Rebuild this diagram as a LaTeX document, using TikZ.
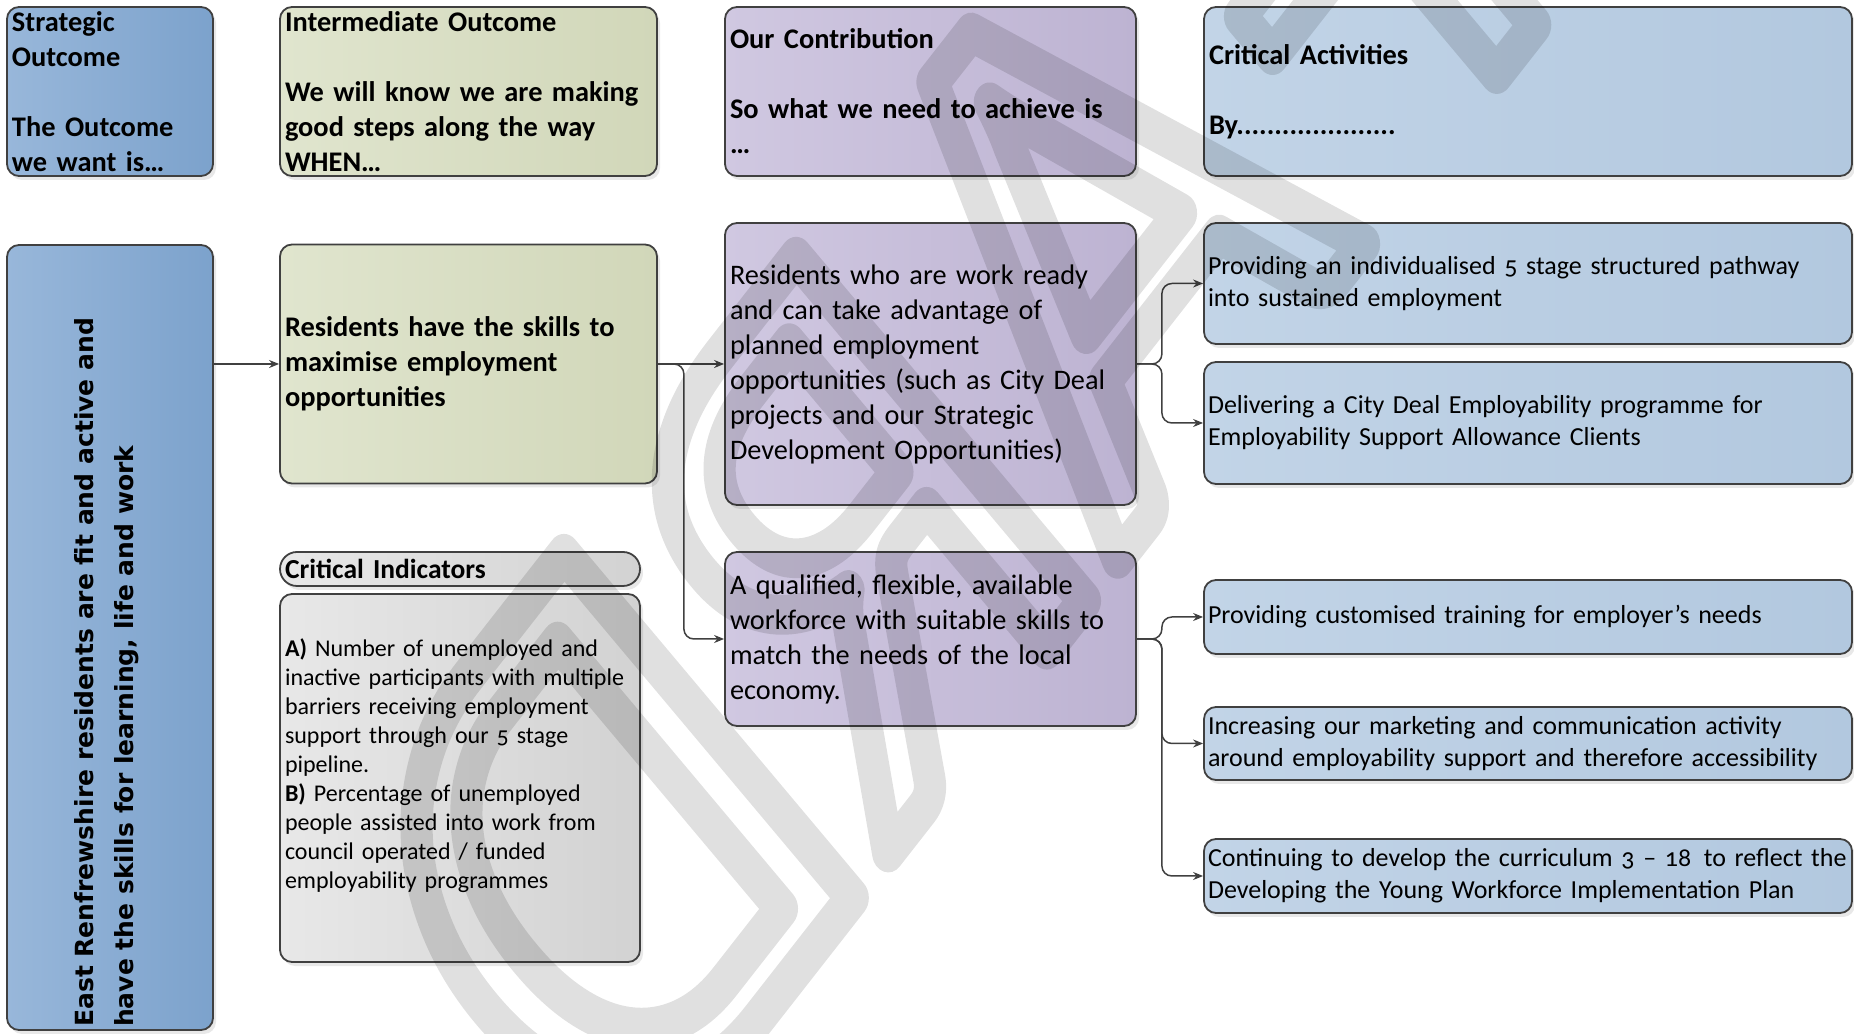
\documentclass[tikz,border=0pt]{standalone}
\usepackage{fontspec}
\setmainfont{Carlito}[Numbers=OldStyle]
\newfontfamily\goalfont{DejaVu Sans}
\usepackage{tikz}
\usepackage{xcolor}
\usetikzlibrary{positioning,arrows.meta,shadows}

\begin{document}
\begin{tikzpicture}[x=1pt,y=1pt,
  box/.style={draw=borderColor, line width=1.8pt, rounded corners=12pt,
    inner xsep=5pt, inner ysep=0pt, align=left,
    drop shadow={shadow xshift=3pt, shadow yshift=-4pt, opacity=0.18}},
  headtext/.style={font=\fontsize{28.4}{35}\selectfont\bfseries},
  bodytext/.style={font=\fontsize{28.3}{35}\selectfont},
  acttext/.style={font=\fontsize{26}{32}\selectfont, inner xsep=4pt, text width=640pt},
  indtext/.style={font=\fontsize{24}{29}\selectfont},
  stratfill/.style={left color=stratLight, right color=stratDark},
  greenfill/.style={left color=greenLight, right color=greenDark},
  purplefill/.style={left color=purpleLight, right color=purpleDark},
  actfill/.style={left color=actLight, right color=actDark},
  grayfill/.style={left color=grayLight, right color=grayDark},
  conn/.style={draw=borderColor, line width=1.5pt, rounded corners=10pt,
    -{Stealth[length=10pt,width=8pt]}},
  markletter/.style={xscale=-1, transform shape, inner sep=0pt, text=black,
    font=\fontsize{700}{700}\selectfont}]
\definecolor{borderColor}{RGB}{64,64,64}
\definecolor{stratLight}{RGB}{152,183,218}
\definecolor{stratDark}{RGB}{124,162,204}
\definecolor{greenLight}{RGB}{224,229,206}
\definecolor{greenDark}{RGB}{209,215,185}
\definecolor{purpleLight}{RGB}{208,200,225}
\definecolor{purpleDark}{RGB}{189,179,210}
\definecolor{actLight}{RGB}{194,212,231}
\definecolor{actDark}{RGB}{178,200,223}
\definecolor{grayLight}{RGB}{232,232,232}
\definecolor{grayDark}{RGB}{210,210,210}
\path[use as bounding box] (0,0) rectangle (1854,1033);
\path[clip] (0,0) rectangle (1854,1033);

% column headers
\node[box, stratfill, headtext, minimum width=206pt, text width=196pt, minimum height=169pt] (stratHead) at (110, 941.5)
  {Strategic\\Outcome\\[35pt]The Outcome\\we want is…};
\node[box, greenfill, headtext, minimum width=377pt, text width=367pt, minimum height=169pt] (interHead) at (468.5, 941.5)
  {Intermediate Outcome\\[35pt]We will know we are making\\good steps along the way\\WHEN…};
\node[box, purplefill, headtext, minimum width=411pt, text width=401pt, minimum height=169pt] (contribHead) at (930.5, 941.5)
  {Our Contribution\\[35pt]So what we need to achieve is\\…};
\node[box, actfill, headtext, minimum width=648pt, text width=638pt, minimum height=169pt] (actHead) at (1528, 941.5)
  {Critical Activities\\[35pt]By.....................};

% outcome and indicators
\node[box, stratfill, minimum width=206pt, minimum height=785pt] (goal) at (110, 395.5) {};
\node[rotate=90, anchor=north west, inner sep=0pt, align=left,
  font=\goalfont\bfseries\fontsize{25}{40}\selectfont] (goalText) at (74, 6)
  {East Renfrewshire residents are fit and active and\\have the skills for learning, life and work};
\node[box, greenfill, headtext, minimum width=377pt, text width=367pt, minimum height=239pt] (skills) at (468.5, 669)
  {Residents have the skills to\\maximise employment\\opportunities};
\node[box, grayfill, font=\fontsize{27.5}{34}\selectfont\bfseries, rounded corners=17pt,
  minimum width=360pt, text width=350pt, minimum height=34pt] (indHead) at (460, 464) {Critical Indicators};
\node[box, grayfill, indtext, minimum width=360pt, text width=350pt, minimum height=368pt] (indBox) at (460, 255)
  {\textbf{A)} Number of unemployed and\\inactive participants with multiple\\barriers receiving employment\\support through our 5 stage\\pipeline.\\
   \textbf{B)} Percentage of unemployed\\people assisted into work from\\council operated / funded\\employability programmes\\\mbox{}};

% contributions
\node[box, purplefill, bodytext, minimum width=411pt, text width=401pt, minimum height=282pt] (ready) at (930.5, 669)
  {Residents who are work ready\\and can take advantage of\\planned employment\\opportunities (such as City Deal\\projects and our Strategic\\Development Opportunities)};
\node[box, purplefill, bodytext, minimum width=411pt, text width=401pt, minimum height=174pt] (workforce) at (930.5, 394)
  {A qualified, flexible, available\\workforce with suitable skills to\\match the needs of the local\\economy.};

% activities
\node[box, actfill, acttext, minimum width=648pt, minimum height=121pt] (act1) at (1528, 749.5)
  {Providing an individualised 5 stage structured pathway\\into sustained employment};
\node[box, actfill, acttext, minimum width=648pt, minimum height=122pt] (act2) at (1528, 610)
  {Delivering a City Deal Employability programme for\\Employability Support Allowance Clients};
\node[box, actfill, acttext, minimum width=648pt, minimum height=74pt] (act3) at (1528, 416)
  {Providing customised training for employer’s needs};
\node[box, actfill, acttext, minimum width=648pt, minimum height=73pt] (act4) at (1528, 289.5)
  {Increasing our marketing and communication activity\\around employability support and therefore accessibility};
\node[box, actfill, acttext, minimum width=648pt, minimum height=74pt] (act5) at (1528, 157)
  {\mbox{Continuing to develop the curriculum 3 – 18\hspace{0.15em} to reflect the}\\Developing the Young Workforce Implementation Plan};

% connectors
\draw[conn] (goal.east |- skills.west) -- (skills.west);
\draw[conn] (skills.east) -- (ready.west);
\draw[conn] (skills.east) -- ++(26,0) |- (workforce.west);
\foreach \target in {act1,act2}
  \draw[conn] (ready.east) -- ++(25,0) |- (\target.west);
\foreach \target in {act3,act4,act5}
  \draw[conn] (workforce.east) -- ++(25,0) |- (\target.west);

% watermark, outlined letters
\begin{scope}[opacity=0.12, cm={0.616,0.788,-0.643,0.766,(605,175)}]
\foreach \letter/\pos in {D/0,R/405,A/798,F/1162,T/1494}
  \node[markletter] (mark\letter) at (\pos,0)
    {\special{pdf:literal direct 1 J 1 j 36 w 1 Tr}\letter\special{pdf:literal direct 0 Tr}};
\end{scope}
\end{tikzpicture}
\end{document}
